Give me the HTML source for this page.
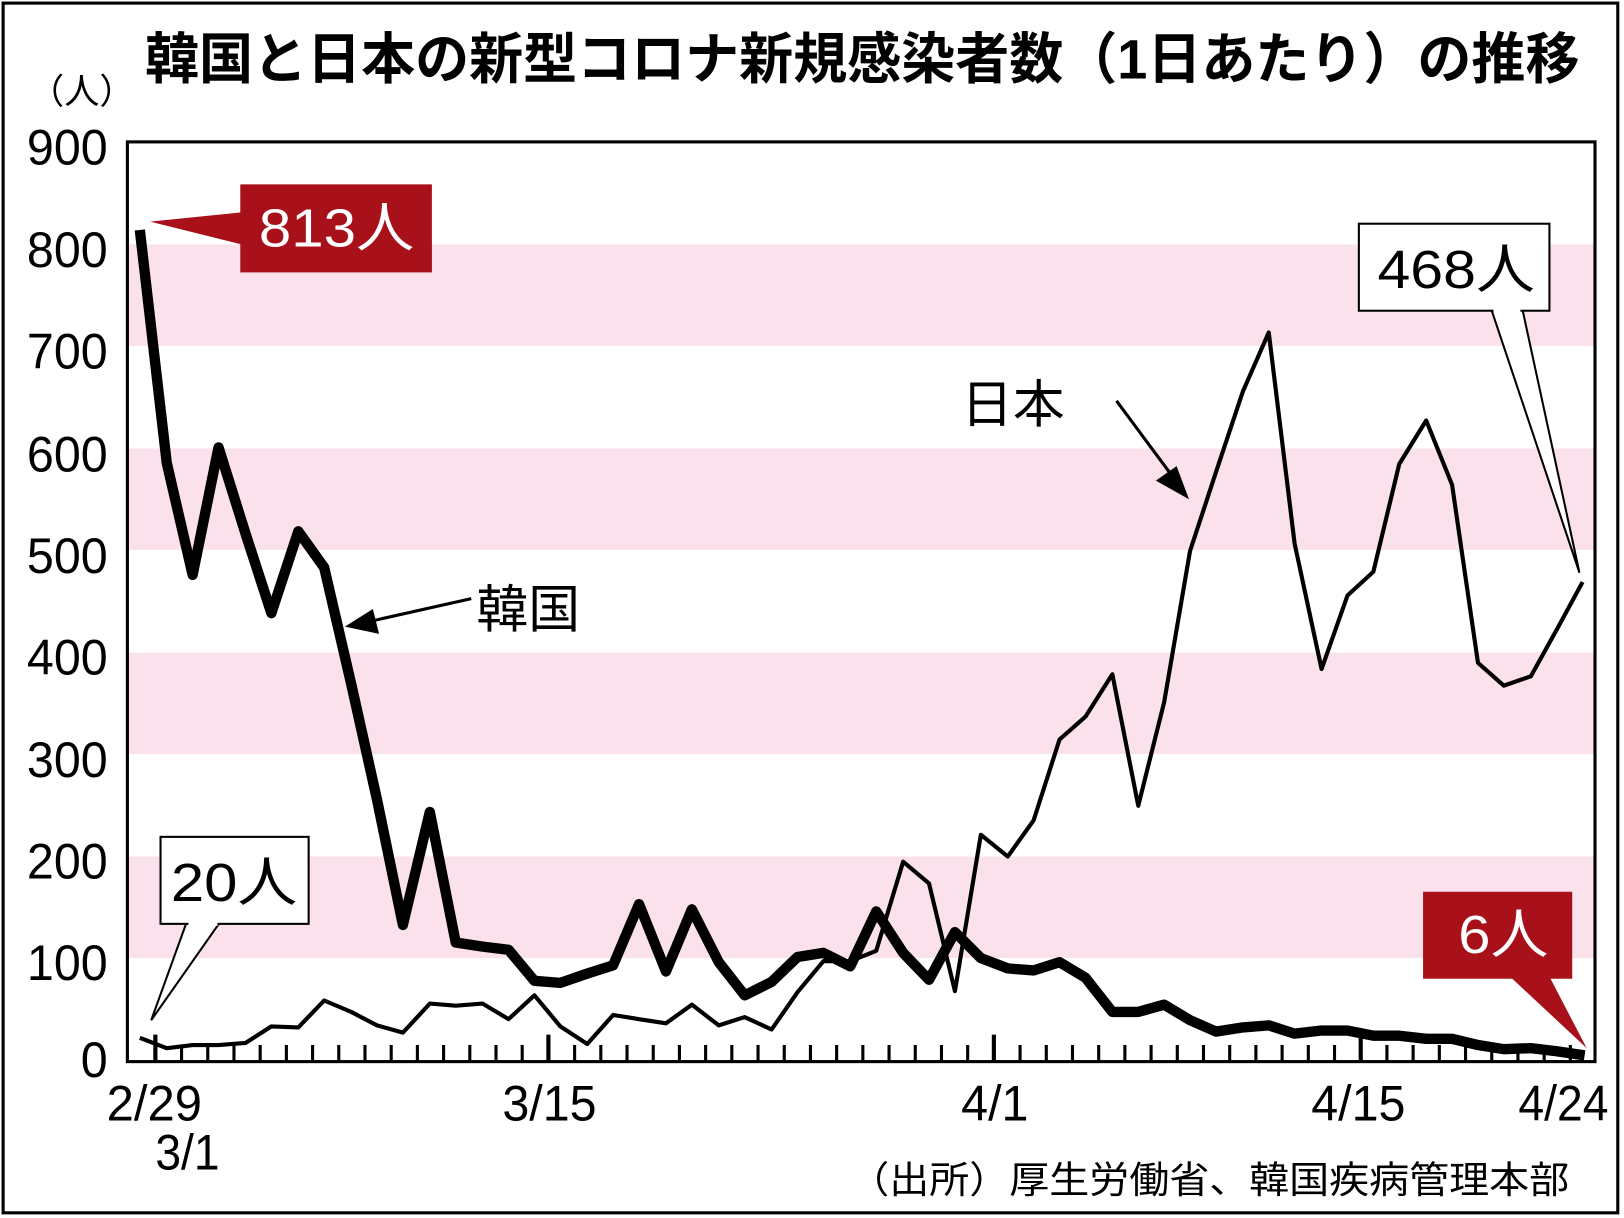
<!DOCTYPE html>
<html><head><meta charset="utf-8"><style>
html,body{margin:0;padding:0;background:#fff;}
svg{display:block;}
text{font-family:"Liberation Sans","Noto Sans CJK JP",sans-serif;}
</style></head><body>
<svg width="1624" height="1218" viewBox="0 0 1568 1176" xmlns="http://www.w3.org/2000/svg">
<rect x="3" y="3" width="1559" height="1168" fill="#fff" stroke="#000" stroke-width="3"/>
<text x="140" y="76" textLength="1385" lengthAdjust="spacingAndGlyphs" font-size="54" font-weight="bold" font-family="'Noto Sans CJK JP',sans-serif">韓国と日本の新型コロナ新規感染者数（1日あたり）の推移</text>
<text x="28" y="100" font-size="34" font-family="'Noto Sans CJK JP',sans-serif">（人）</text>
<g fill="#fbe1ec">
<rect x="123" y="236" width="1417" height="98"/>
<rect x="123" y="433" width="1417" height="98"/>
<rect x="123" y="630" width="1417" height="98"/>
<rect x="123" y="827" width="1417" height="98"/>
</g>
<rect x="123" y="137" width="1417" height="888" fill="none" stroke="#000" stroke-width="3"/>
<g font-size="48" text-anchor="end">
<text x="104" y="159" textLength="78" lengthAdjust="spacingAndGlyphs">900</text>
<text x="104" y="258" textLength="78" lengthAdjust="spacingAndGlyphs">800</text>
<text x="104" y="356" textLength="78" lengthAdjust="spacingAndGlyphs">700</text>
<text x="104" y="455" textLength="78" lengthAdjust="spacingAndGlyphs">600</text>
<text x="104" y="553" textLength="78" lengthAdjust="spacingAndGlyphs">500</text>
<text x="104" y="651" textLength="78" lengthAdjust="spacingAndGlyphs">400</text>
<text x="104" y="750" textLength="78" lengthAdjust="spacingAndGlyphs">300</text>
<text x="104" y="848" textLength="78" lengthAdjust="spacingAndGlyphs">200</text>
<text x="104" y="946" textLength="78" lengthAdjust="spacingAndGlyphs">100</text>
<text x="104" y="1040" textLength="26" lengthAdjust="spacingAndGlyphs">0</text>
</g>
<path stroke="#000" stroke-width="3" fill="none" d="M175.3 1025v-16M200.6 1025v-16M225.9 1025v-16M251.2 1025v-16M276.5 1025v-16M301.8 1025v-16M327.1 1025v-16M352.4 1025v-16M377.7 1025v-16M403 1025v-16M428.3 1025v-16M453.6 1025v-16M478.9 1025v-16M504.2 1025v-16M554.8 1025v-16M580.1 1025v-16M605.4 1025v-16M630.7 1025v-16M656 1025v-16M681.3 1025v-16M706.6 1025v-16M731.9 1025v-16M757.2 1025v-16M782.5 1025v-16M807.8 1025v-16M833.1 1025v-16M858.4 1025v-16M883.7 1025v-16M909 1025v-16M934.3 1025v-16M984.9 1025v-16M1010.2 1025v-16M1035.5 1025v-16M1060.8 1025v-16M1086.1 1025v-16M1111.4 1025v-16M1136.7 1025v-16M1162 1025v-16M1187.3 1025v-16M1212.6 1025v-16M1237.9 1025v-16M1263.2 1025v-16M1288.5 1025v-16M1339.1 1025v-16M1364.4 1025v-16M1389.7 1025v-16M1415 1025v-16M1440.3 1025v-16M1465.6 1025v-16M1490.9 1025v-16M1516.2 1025v-16"/>
<path stroke="#000" stroke-width="4" fill="none" d="M150 1025v-26M529.5 1025v-26M959.6 1025v-26M1313.8 1025v-26"/>
<g font-size="48">
<text x="103" y="1082" textLength="92" lengthAdjust="spacingAndGlyphs">2/29</text>
<text x="150" y="1129" textLength="62" lengthAdjust="spacingAndGlyphs">3/1</text>
<text x="485" y="1082" textLength="91" lengthAdjust="spacingAndGlyphs">3/15</text>
<text x="928" y="1082" textLength="65" lengthAdjust="spacingAndGlyphs">4/1</text>
<text x="1266" y="1082" textLength="91" lengthAdjust="spacingAndGlyphs">4/15</text>
<text x="1466" y="1082" textLength="87" lengthAdjust="spacingAndGlyphs">4/24</text>
</g>
<text x="820" y="1152" textLength="695" lengthAdjust="spacingAndGlyphs" font-size="36" font-family="'Noto Serif CJK SC','Liberation Serif',serif">（出所）厚生労働省、韓国疾病管理本部</text>
<polyline fill="none" stroke="#000" stroke-width="4" stroke-linejoin="round" points="135,1002 161,1012 186,1009 211,1009 237,1007 262,991 288,992 313,966 339,977 364,990 389,997 415,969 440,971 466,969 491,984 516,961 541,991 567,1008 592,980 617,984 643,988 668,970 694,990 719,982 745,994 770,958 795,928 821,928 846,918 872,832 897,853 922,957 947,806 973,827 998,792 1023,714 1048,692 1074,651 1099,778 1124,678 1149,532 1174,456 1200,378 1225,321 1250,525 1276,646 1301,575 1326,552 1351,448 1377,406 1402,468 1427,640 1452,662 1478,653 1503,608 1528,562"/>
<polyline fill="none" stroke="#000" stroke-width="10" stroke-linejoin="round" points="135,222 161,447 186,555 211,432 237,515 262,592 288,513 313,548 339,660 364,772 389,893 415,784 440,910 466,914 491,917 516,947 541,949 567,940 592,932 617,873 643,938 668,878 694,929 719,961 745,948 770,924 795,920 821,933 846,880 872,920 897,946 922,900 947,925 973,935 998,937 1023,929 1048,944 1074,977 1099,977 1124,970 1149,985 1174,996 1200,992 1225,990 1250,998 1276,995 1301,995 1326,1000 1351,1000 1377,1003 1402,1003 1427,1009 1452,1013 1478,1012 1503,1015 1530,1019"/>
<polygon points="233,205 145,214 233,236" fill="#a8101a"/>
<rect x="232" y="178" width="185" height="85" fill="#a8101a"/>
<text x="250" y="238" textLength="150" lengthAdjust="spacingAndGlyphs" font-size="52" fill="#fff">813人</text>
<polygon points="1440,299 1525,553 1470,299" fill="#fff" stroke="#000" stroke-width="2"/>
<rect x="1312" y="216" width="184" height="84" fill="#fff" stroke="#000" stroke-width="2"/>
<line x1="1442" y1="300" x2="1468" y2="300" stroke="#fff" stroke-width="4"/>
<text x="1330" y="278" textLength="152" lengthAdjust="spacingAndGlyphs" font-size="52">468人</text>
<polygon points="180,891 146,985 212,891" fill="#fff" stroke="#000" stroke-width="2"/>
<rect x="155" y="808" width="143" height="84" fill="#fff" stroke="#000" stroke-width="2"/>
<line x1="182" y1="892" x2="210" y2="892" stroke="#fff" stroke-width="4"/>
<text x="165" y="870" textLength="122" lengthAdjust="spacingAndGlyphs" font-size="52">20人</text>
<polygon points="1458,943 1532,1012 1496,943" fill="#a8101a"/>
<rect x="1374" y="861" width="144" height="84" fill="#a8101a"/>
<text x="1408" y="920" textLength="87" lengthAdjust="spacingAndGlyphs" font-size="52" fill="#fff">6人</text>
<text x="928" y="408" font-size="50" font-family="'Noto Sans CJK JP',sans-serif">日本</text>
<line x1="1078" y1="387" x2="1138" y2="468" stroke="#000" stroke-width="3"/>
<polygon points="1148,482 1116,464 1136,450" fill="#000"/>
<text x="460" y="606" font-size="50" font-family="'Noto Sans CJK JP',sans-serif">韓国</text>
<line x1="455" y1="578" x2="348" y2="602" stroke="#000" stroke-width="3"/>
<polygon points="333,605 360,588 366,612" fill="#000"/>
</svg>
</body></html>
